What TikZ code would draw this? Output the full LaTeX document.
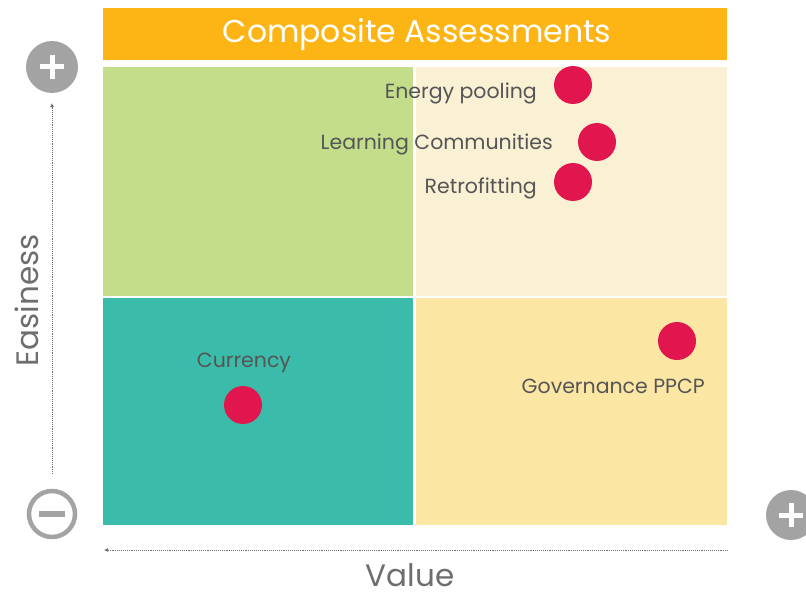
\documentclass[tikz,border=0pt]{standalone}
\usepackage{fontspec}
\setmainfont{Poppins}
\usetikzlibrary{arrows.meta}
\definecolor{hdr}{HTML}{FDB515}
\definecolor{qgreen}{HTML}{C4DD8B}
\definecolor{qcream}{HTML}{FAF0D3}
\definecolor{qteal}{HTML}{3BBCAA}
\definecolor{qyellow}{HTML}{FCE6A4}
\definecolor{dotc}{HTML}{E1164E}
\definecolor{lbl}{HTML}{555555}
\definecolor{icon}{HTML}{A3A3A3}
\definecolor{axis}{HTML}{6E6E6E}
\tikzset{
  dot/.style={circle, fill=dotc, minimum size=38pt, inner sep=0pt},
  lab/.style={text=lbl, font=\fontsize{20.5}{23}\selectfont, inner sep=0pt},
  axlab/.style={text=axis, font=\fontsize{31}{36}\selectfont, inner sep=0pt},
  axline/.style={densely dotted, draw=axis, line width=0.9pt, -{Latex[length=4pt,width=4pt]}},
}
\begin{document}
\begin{tikzpicture}[x=1pt,y=-1pt]
\useasboundingbox (0,0) rectangle (806,594);
% header
\fill[hdr] (103,8) rectangle (727,60);
\node[text=white, font=\fontsize{31.5}{34}\selectfont, inner sep=0pt] (title) at (417,35) {Composite Assessments};
% quadrants
\fill[qgreen] (103,67) rectangle (413,296);
\fill[qcream] (416,67) rectangle (727,296);
\fill[qteal] (103,298) rectangle (413,525);
\fill[qyellow] (416,298) rectangle (727,525);
% dots and labels
\node[dot] (d1) at (573,85) {};
\node[lab, anchor=east] (l1) at (537,93) {Energy pooling};
\node[dot] (d2) at (597,142) {};
\node[lab, anchor=east] (l2) at (553,144) {Learning Communities};
\node[dot] (d3) at (573,182) {};
\node[lab, anchor=east] (l3) at (537,188) {Retrofitting};
\node[dot] (d4) at (677,341) {};
\node[lab, anchor=east] (l4) at (705,386) {Governance PPCP};
\node[dot] (d5) at (243,405) {};
\node[lab] (l5) at (244,363) {Currency};
% icons
\node[circle, fill=icon, minimum size=52pt, inner sep=0pt] (plusTop) at (52,67) {};
\fill[white] (40,64.5) rectangle (64,69.5);
\fill[white] (49.5,55) rectangle (54.5,79);
\node[circle, draw=icon, line width=4.5pt, minimum size=46pt, inner sep=0pt] (minus) at (52,514) {};
\fill[icon] (39,511) rectangle (65,517);
\node[circle, fill=icon, minimum size=50pt, inner sep=0pt] (plusRight) at (791,515) {};
\fill[white] (779,512.5) rectangle (803,517.5);
\fill[white] (788.5,503) rectangle (793.5,527);
% axes
\coordinate (vb) at (52,474);
\coordinate (vt) at (52,103);
\draw[axline] (vb) -- (vt);
\coordinate (hr) at (728,550);
\coordinate (hl) at (104,550);
\draw[axline] (hr) -- (hl);
\node[axlab, rotate=90] (easy) at (27,300) {Easiness};
\node[axlab, anchor=base, text depth=0pt] (value) at (410,586) {Value};
\end{tikzpicture}
\end{document}
